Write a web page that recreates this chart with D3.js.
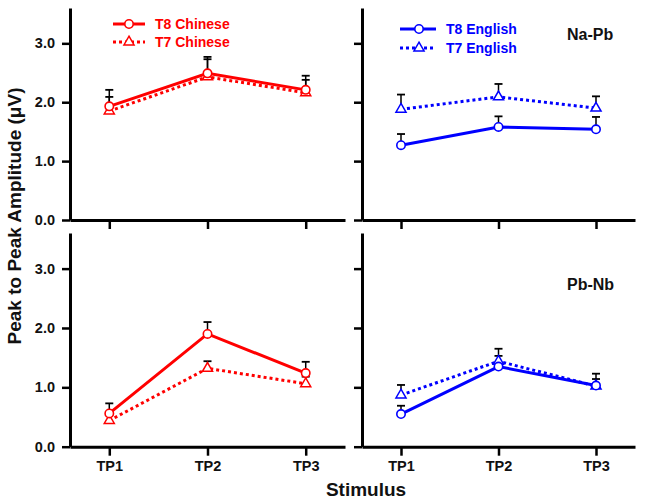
<!DOCTYPE html>
<html><head><meta charset="utf-8">
<script src="https://cdn.jsdelivr.net/npm/d3@7"></script>
<style>
html,body{margin:0;padding:0;background:#fff;}
text{font-family:Arial,"Liberation Sans",sans-serif;font-weight:bold;}
</style></head>
<body><svg id="c" width="645" height="502"></svg>
<script>
const categories = ["TP1","TP2","TP3"];
const yTicks = [0,1,2,3];
const rowLabels = ["Na-Pb","Pb-Nb"];
const seriesNames = {Chinese:["T8 Chinese","T7 Chinese"], English:["T8 English","T7 English"]};

// Na-Pb
const naPbChineseT8 = [1.93, 2.49, 2.21];
const naPbChineseT8Err = [0.28, 0.28, 0.24];
const naPbChineseT7 = [1.85, 2.43, 2.16];
const naPbChineseT7Err = [0.24, 0.30, 0.22];
const naPbEnglishT8 = [1.27, 1.58, 1.54];
const naPbEnglishT8Err = [0.19, 0.18, 0.21];
const naPbEnglishT7 = [1.88, 2.09, 1.90];
const naPbEnglishT7Err = [0.25, 0.22, 0.20];
// Pb-Nb
const pbNbChineseT8 = [0.56, 1.90, 1.24];
const pbNbChineseT8Err = [0.17, 0.20, 0.19];
const pbNbChineseT7 = [0.44, 1.32, 1.06];
const pbNbChineseT7Err = [0.12, 0.12, 0.12];
const pbNbEnglishT8 = [0.55, 1.35, 1.03];
const pbNbEnglishT8Err = [0.14, 0.18, 0.20];
const pbNbEnglishT7 = [0.87, 1.44, 1.02];
const pbNbEnglishT7Err = [0.17, 0.21, 0.12];

const RED = "#ff0000", BLUE = "#0000ff";
const svg = d3.select("#c");

const panels = [
  {row:0, col:0, color:RED, t8:naPbChineseT8, t8e:naPbChineseT8Err, t7:naPbChineseT7, t7e:naPbChineseT7Err, legend:seriesNames.Chinese},
  {row:0, col:1, color:BLUE, t8:naPbEnglishT8, t8e:naPbEnglishT8Err, t7:naPbEnglishT7, t7e:naPbEnglishT7Err, legend:seriesNames.English, label:rowLabels[0]},
  {row:1, col:0, color:RED, t8:pbNbChineseT8, t8e:pbNbChineseT8Err, t7:pbNbChineseT7, t7e:pbNbChineseT7Err},
  {row:1, col:1, color:BLUE, t8:pbNbEnglishT8, t8e:pbNbEnglishT8Err, t7:pbNbEnglishT7, t7e:pbNbEnglishT7Err, label:rowLabels[1]}
];
const colX = [[70,345],[362,635]];
const rowY = [[220,8],[446.7,233]];

const triPath = d3.symbol().type(d3.symbolTriangle).size(44);

panels.forEach(p => {
  const x = d3.scalePoint().domain(categories).range(colX[p.col]).padding(0.4);
  const y = d3.scaleLinear().domain([0,3.6]).range(rowY[p.row]);
  const g = svg.append("g");

  const ya = d3.axisLeft(y).tickValues(yTicks).tickSize(8).tickSizeOuter(0)
     .tickFormat(p.col===0 ? d3.format(".1f") : "");
  const yg = g.append("g").attr("transform",`translate(${colX[p.col][0]},0)`).call(ya);
  const xa = d3.axisBottom(x).tickSize(9).tickSizeOuter(0)
     .tickFormat(p.row===1 ? (d=>d) : "");
  const xg = g.append("g").attr("transform",`translate(0,${rowY[p.row][0]})`).call(xa);
  [yg,xg].forEach(a=>{
    a.select(".domain").attr("stroke","#000").attr("stroke-width",3);
    a.selectAll(".tick line").attr("stroke","#000").attr("stroke-width",2.5);
    a.selectAll(".tick text").attr("fill","#111").style("font-size","14.5px").style("font-weight","bold")
      .style("font-family","Arial, 'Liberation Sans', sans-serif");
  });
  yg.selectAll(".tick text").attr("x",-15);
  xg.selectAll(".tick text").attr("y",14);

  const series = [
    {v:p.t8, e:p.t8e, dash:null, sym:"circle"},
    {v:p.t7, e:p.t7e, dash:"3,3", sym:"tri"}
  ];
  series.forEach(s=>{
    s.v.forEach((v,i)=>{
      const cx = x(categories[i]);
      g.append("line").attr("x1",cx).attr("x2",cx).attr("y1",y(v)).attr("y2",y(v+s.e[i]))
        .attr("stroke","#000").attr("stroke-width",1.5);
      g.append("line").attr("x1",cx-4).attr("x2",cx+4).attr("y1",y(v+s.e[i])).attr("y2",y(v+s.e[i]))
        .attr("stroke","#000").attr("stroke-width",1.8);
    });
  });
  const line = d3.line().x((d,i)=>x(categories[i])).y(d=>y(d));
  series.slice().reverse().forEach(s=>{
    g.append("path").attr("d",line(s.v)).attr("fill","none").attr("stroke",p.color)
      .attr("stroke-width",3).attr("stroke-dasharray",s.dash);
  });
  series.slice().reverse().forEach(s=>{
    s.v.forEach((v,i)=>{
      const cx = x(categories[i]), cy = y(v);
      if(s.sym==="circle"){
        g.append("circle").attr("cx",cx).attr("cy",cy).attr("r",4.2)
          .attr("fill","#fff").attr("stroke",p.color).attr("stroke-width",1.6);
      } else {
        g.append("path").attr("d",triPath()).attr("transform",`translate(${cx},${cy})`)
          .attr("fill","#fff").attr("stroke",p.color).attr("stroke-width",1.5);
      }
    });
  });

  if(p.legend){
    const lg = p.col===0 ? {x1:113,x2:145,xm:129,y:[24,42],tx:155} : {x1:400,x2:436,xm:419,y:[29,48],tx:446};
    p.legend.forEach((name,k)=>{
      const ly = lg.y[k];
      g.append("line").attr("x1",lg.x1).attr("x2",lg.x2).attr("y1",ly).attr("y2",ly)
        .attr("stroke",p.color).attr("stroke-width",3).attr("stroke-dasharray",k===0?null:"3,3");
      if(k===0){
        g.append("circle").attr("cx",lg.xm).attr("cy",ly).attr("r",4.2)
          .attr("fill","#fff").attr("stroke",p.color).attr("stroke-width",1.6);
      } else {
        g.append("path").attr("d",triPath()).attr("transform",`translate(${lg.xm},${ly})`)
          .attr("fill","#fff").attr("stroke",p.color).attr("stroke-width",1.5);
      }
      g.append("text").attr("x",lg.tx).attr("y",ly+5).attr("fill",p.color)
        .style("font-size","14px").text(name);
    });
  }
  if(p.label){
    g.append("text").attr("x",567).attr("y",p.row===0?40:290).attr("fill","#111")
      .style("font-size","16px").text(p.label);
  }
});

svg.append("text").attr("transform","translate(21,216) rotate(-90)").attr("text-anchor","middle")
  .attr("fill","#111").style("font-size","19px").text("Peak to Peak Amplitude (\u03bcV)");
svg.append("text").attr("x",366).attr("y",496).attr("text-anchor","middle")
  .attr("fill","#111").style("font-size","19px").text("Stimulus");
</script></body></html>
